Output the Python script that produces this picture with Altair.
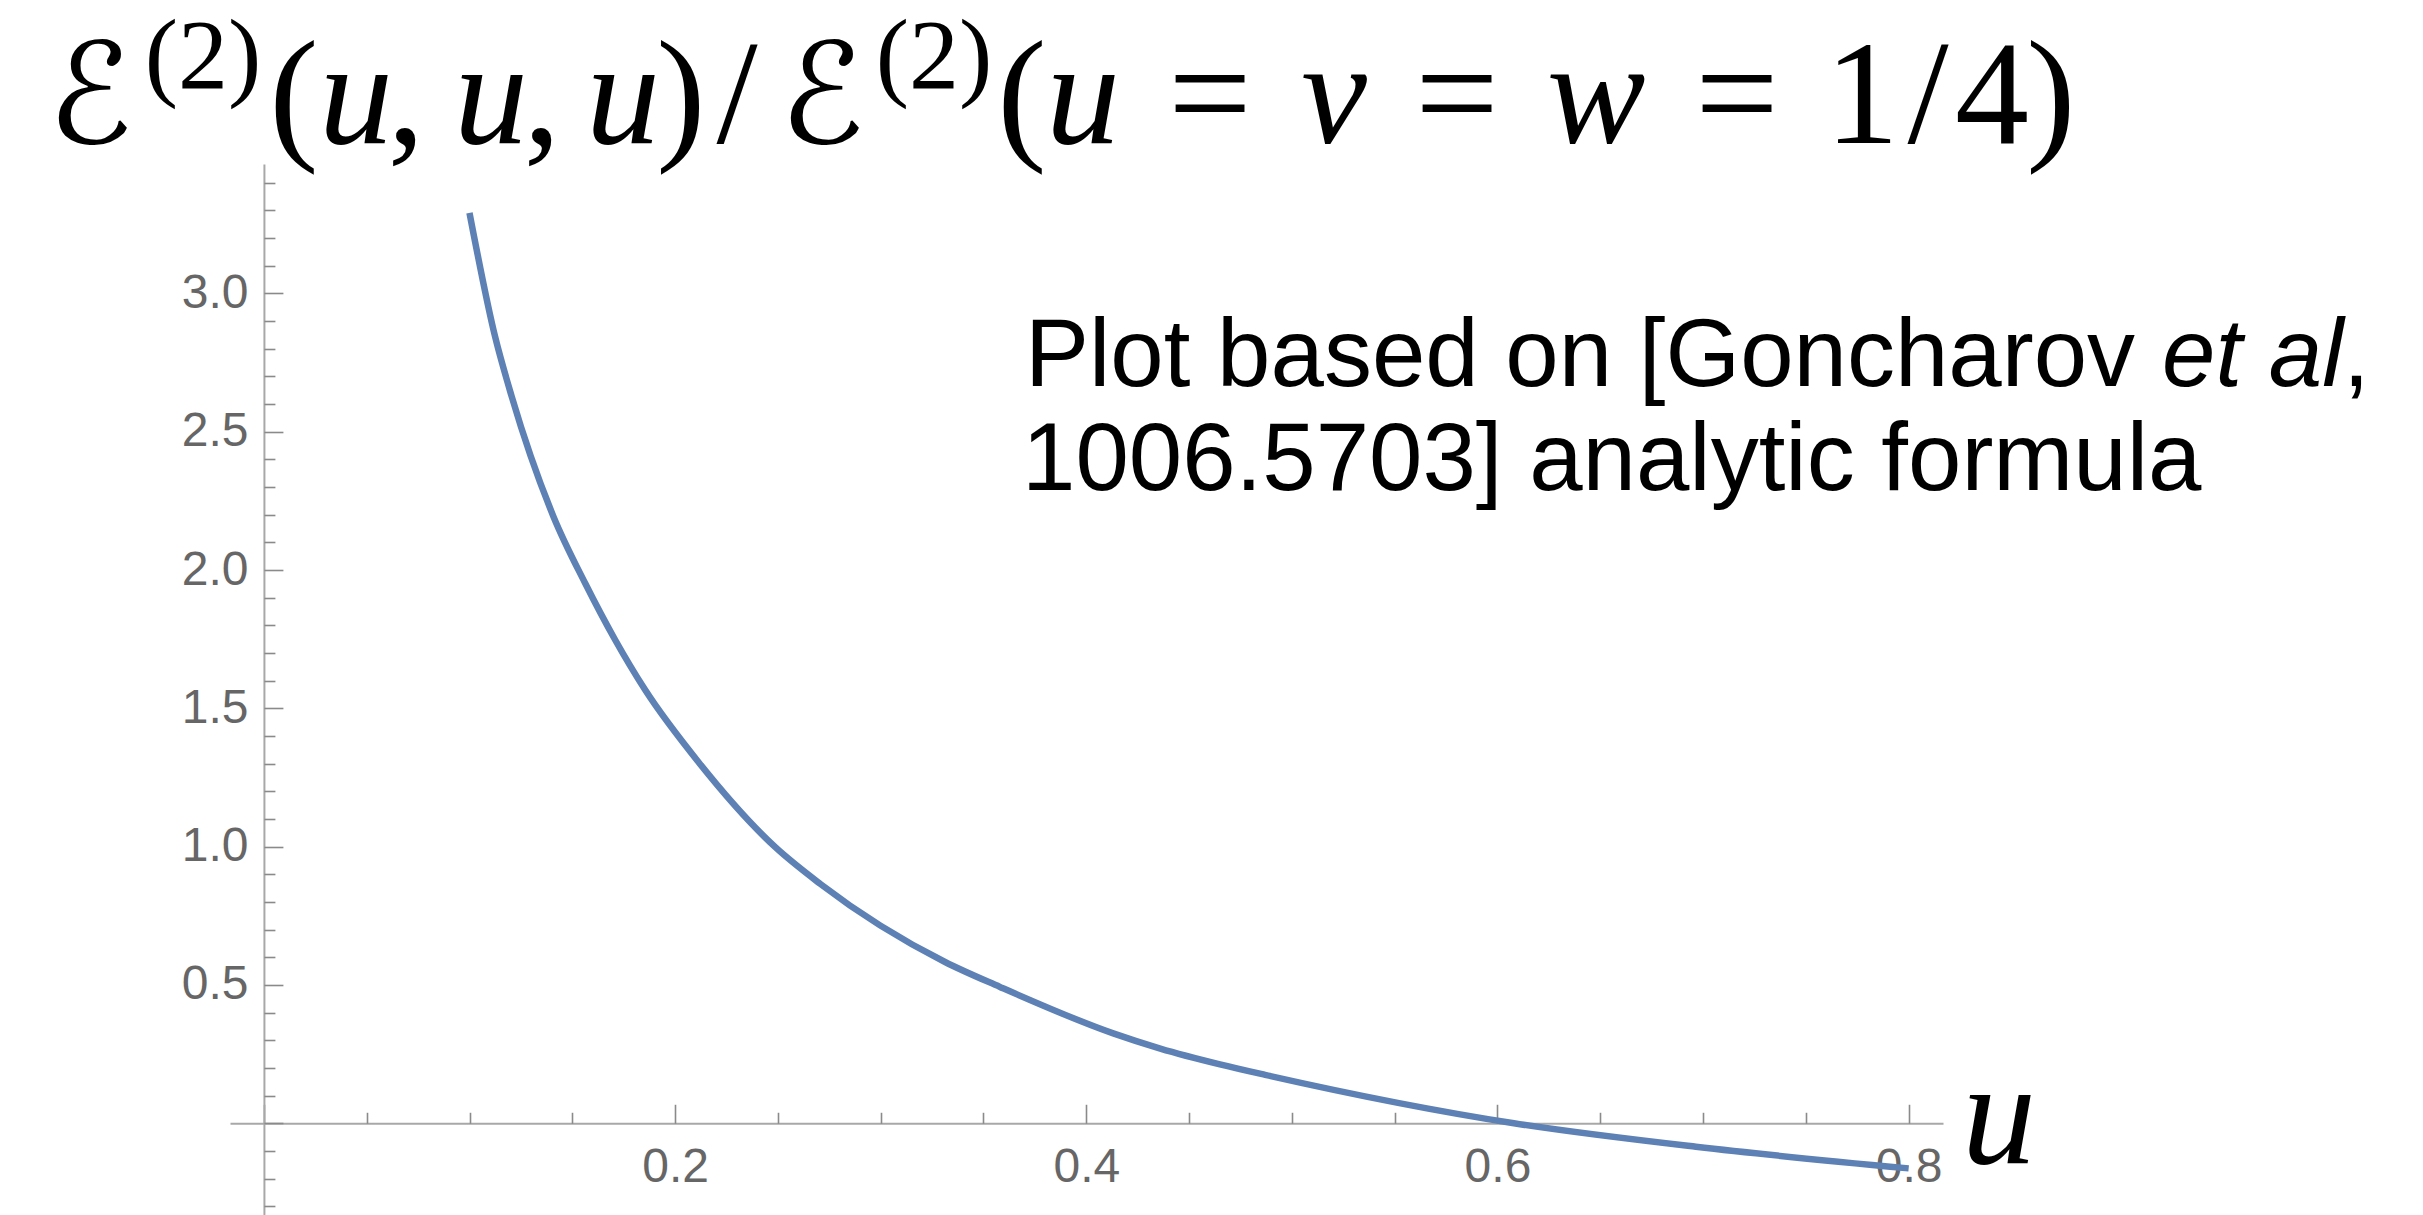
import altair as alt
import pandas as pd

# ---- data ----
u_vals = [0.1, 0.1124, 0.1205, 0.1408, 0.1562, 0.1708, 0.1854, 0.212, 0.2486,
          0.2705, 0.3313, 0.358, 0.4131, 0.436, 0.465, 0.487, 0.608, 0.6965, 0.8]
e_vals = [3.291, 2.845, 2.628, 2.194, 1.953, 1.748, 1.567, 1.30, 0.999,
          0.866, 0.583, 0.493, 0.325, 0.27, 0.213, 0.175, 0.0, -0.085, -0.163]

x_label_vals = [0.2, 0.4, 0.6, 0.8]
y_label_vals = [0.5, 1.0, 1.5, 2.0, 2.5, 3.0]
x_major = [0.0, 0.2, 0.4, 0.6, 0.8]
x_minor = [0.05, 0.1, 0.15, 0.25, 0.3, 0.35, 0.45, 0.5, 0.55, 0.65, 0.7, 0.75]
y_major = [0.0, 0.5, 1.0, 1.5, 2.0, 2.5, 3.0]
y_minor = [-0.3, -0.2, -0.1, 0.1, 0.2, 0.3, 0.4, 0.6, 0.7, 0.8, 0.9, 1.1, 1.2, 1.3, 1.4,
           1.6, 1.7, 1.8, 1.9, 2.1, 2.2, 2.3, 2.4, 2.6, 2.7, 2.8, 2.9, 3.1, 3.2, 3.3, 3.4]

df = pd.DataFrame({"u": u_vals, "E": e_vals})

# ---- layout ----
W, H = 1713, 1051
PAD_L, PAD_T = 230, 164
X_DOM = [-0.0165, 0.8167]
Y_DOM = [-0.3316, 3.468]
x0_px = (0 - X_DOM[0]) / (X_DOM[1] - X_DOM[0]) * W
y0_px = (Y_DOM[1] - 0) / (Y_DOM[1] - Y_DOM[0]) * H

LINE_COLOR = "#5E81B5"
DOMAIN_COLOR = "#a8a8a8"
TICK_COLOR = "#8a8a8a"
LABEL_COLOR = "#666666"
SANS = "Liberation Sans"
SERIF = "Liberation Serif"
SCRIPT = "DejaVu Serif, DejaVu Sans"

xs = alt.Scale(domain=X_DOM, nice=False, zero=False)
ys = alt.Scale(domain=Y_DOM, nice=False, zero=False)

base = alt.Chart(df)

curve = base.mark_line(color=LINE_COLOR, strokeWidth=6.5, interpolate="monotone").encode(
    x=alt.X("u:Q", scale=xs, axis=alt.Axis(
        orient="bottom", offset=-(H - y0_px), values=x_label_vals, format=".1f",
        ticks=False, tickSize=0, domain=True, domainColor=DOMAIN_COLOR, domainWidth=2,
        labelFont=SANS, labelFontSize=48, labelColor=LABEL_COLOR, labelPadding=20,
        labelFlush=False, labelOverlap=False, grid=False, title=None)),
    y=alt.Y("E:Q", scale=ys, axis=alt.Axis(
        orient="left", offset=-x0_px, values=y_label_vals, format=".1f",
        ticks=False, tickSize=0, domain=True, domainColor=DOMAIN_COLOR, domainWidth=2,
        labelFont=SANS, labelFontSize=48, labelColor=LABEL_COLOR, labelPadding=16,
        labelFlush=False, labelOverlap=False, grid=False, title=None)),
)

def tick_layer(xvals, yvals, size):
    return base.mark_line(strokeOpacity=0).encode(
        x=alt.X("u:Q", scale=xs, axis=alt.Axis(
            orient="top", offset=-y0_px, values=xvals, labels=False, domain=False,
            ticks=True, tickSize=size, tickColor=TICK_COLOR, tickWidth=1.6,
            grid=False, title=None)),
        y=alt.Y("E:Q", scale=ys, axis=alt.Axis(
            orient="right", offset=-(W - x0_px), values=yvals, labels=False, domain=False,
            ticks=True, tickSize=size, tickColor=TICK_COLOR, tickWidth=1.6,
            grid=False, title=None)),
    )

major = tick_layer(x_major, y_major, 19)
minor = tick_layer(x_minor, y_minor, 11)


def txt(s, X, Y, size, font, style="normal", align="center", color="black"):
    return alt.Chart(pd.DataFrame({"t": [s]})).mark_text(
        font=font, fontSize=size, fontStyle=style, align=align,
        baseline="alphabetic", color=color,
    ).encode(text="t:N", x=alt.value(X - PAD_L), y=alt.value(Y - PAD_T))


MAIN, SUP, SCR = 148, 100, 140
BY, SY = 143, 88
title_parts = [
    ("ℰ", 90, BY, SCR, SCRIPT, "italic"),
    ("(2)", 203, SY, SUP, SERIF, "normal"),
    ("(", 294, BY, MAIN, SERIF, "normal"),
    ("u", 356, BY, MAIN, SERIF, "italic"),
    (",", 406, BY, MAIN, SERIF, "normal"),
    ("u", 491, BY, MAIN, SERIF, "italic"),
    (",", 542, BY, MAIN, SERIF, "normal"),
    ("u", 623, BY, MAIN, SERIF, "italic"),
    (")", 681, BY, MAIN, SERIF, "normal"),
    ("/", 737, BY, MAIN, SERIF, "normal"),
    ("ℰ", 822, BY, SCR, SCRIPT, "italic"),
    ("(2)", 934, SY, SUP, SERIF, "normal"),
    ("(", 1022, BY, MAIN, SERIF, "normal"),
    ("u", 1083, BY, MAIN, SERIF, "italic"),
    ("=", 1210, BY, MAIN, SERIF, "normal"),
    ("v", 1334, BY, MAIN, SERIF, "italic"),
    ("=", 1457, BY, MAIN, SERIF, "normal"),
    ("w", 1596, BY, MAIN, SERIF, "italic"),
    ("=", 1737, BY, MAIN, SERIF, "normal"),
    ("1", 1862, BY, MAIN, SERIF, "normal"),
    ("/", 1928, BY, MAIN, SERIF, "normal"),
    ("4", 1992, BY, MAIN, SERIF, "normal"),
    (")", 2051, BY, MAIN, SERIF, "normal"),
]
title_layers = [txt(s, x, y, sz, f, st) for (s, x, y, sz, f, st) in title_parts]

ANN = 96
ann_layers = [
    txt("Plot based on [Goncharov", 1025, 386, ANN, SANS, "normal", "left"),
    txt("et al", 2162, 386, ANN, SANS, "italic", "left"),
    txt(",", 2343, 386, ANN, SANS, "normal", "left"),
    txt("1006.5703] analytic formula", 1022, 490, ANN, SANS, "normal", "left"),
]

x_title = txt("u", 1999, 1163, MAIN, SERIF, "italic")

chart = alt.layer(
    curve, major, minor, *title_layers, *ann_layers, x_title
).resolve_axis(
    x="independent", y="independent"
).properties(
    width=W, height=H,
    padding={"left": PAD_L, "top": PAD_T, "right": 2423 - PAD_L - W, "bottom": 1215 - PAD_T - H},
    autosize=alt.AutoSizeParams(type="none"),
    background="white",
).configure_view(stroke=None)

chart.save("out.html", embed_options={"renderer": "svg", "actions": False})
